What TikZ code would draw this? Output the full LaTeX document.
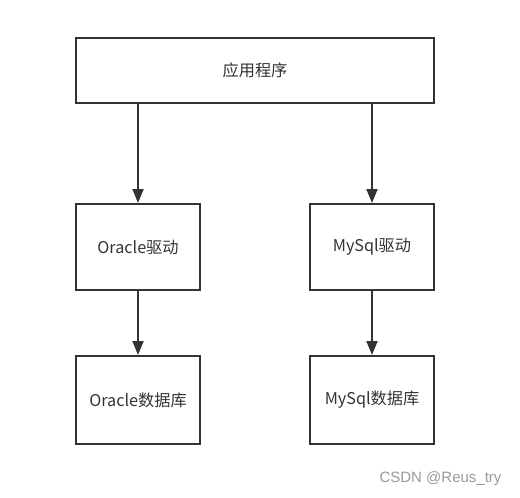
\documentclass[tikz,border=0pt]{standalone}
\usepackage{fontspec}
\setmainfont{Liberation Sans}
\newfontfamily\cjk{Noto Sans CJK SC}
\usetikzlibrary{arrows.meta,positioning}
\definecolor{linegray}{HTML}{333333}
\definecolor{markgray}{HTML}{999999}

\begin{document}
\begin{tikzpicture}[x=1pt,y=1pt]
            \tikzstyle{every node}=[font=\cjk\fontsize{16.2}{19}\selectfont,
            text=linegray]
            \tikzstyle{box}=[draw=linegray, line width=2pt, fill=white,
            inner sep=0pt, minimum width=124pt]
            \tikzstyle{link}=[-{Triangle[length=14pt,width=11pt]},
            draw=linegray, line width=2pt]
            \useasboundingbox (0,0) rectangle (520,-498);
            %            app
            %   odrv            mdrv
            %   odb             mdb
            \node[box, minimum width=358pt, minimum height=65pt] (app) at (255,-70.5) {应用程序};
            \node[box, minimum height=86pt] (odrv) at (138,-247) {Oracle驱动};
            \node[box, minimum height=86pt] (mdrv) at (372,-247) {MySql驱动};
            \node[box, minimum height=88pt] (odb) at (138,-400) {Oracle数据库};
            \node[box, minimum height=88pt] (mdb) at (372,-400) {MySql数据库};
            \coordinate (appl) at (138,-103);
            \coordinate (appr) at (372,-103);
            \draw[link] (appl) -- (odrv);
            \draw[link] (appr) -- (mdrv);
            \draw[link] (odrv) -- (odb);
            \draw[link] (mdrv) -- (mdb);
            \node[font=\fontsize{15}{18}\selectfont, text=markgray, anchor=east] (mark) at (505,-479) {CSDN @Reus\_try};
\end{tikzpicture}
\end{document}
